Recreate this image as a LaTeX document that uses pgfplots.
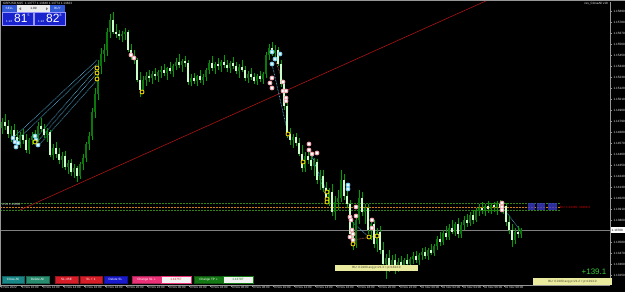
\documentclass[border=0pt]{standalone}
\usepackage{pgfplots}
\pgfplotsset{compat=1.18}
\usepackage{pgfplotstable}
\usepackage{fontspec}
\setmainfont{Liberation Sans}

\definecolor{wickc}{RGB}{0,160,0}
\definecolor{bullc}{RGB}{10,120,10}
\definecolor{bearc}{RGB}{200,255,200}
\definecolor{axgray}{RGB}{150,150,150}
\definecolor{trend}{RGB}{170,20,20}
\definecolor{cyanm}{RGB}{110,200,235}
\definecolor{cyand}{RGB}{80,170,210}
\definecolor{pinkm}{RGB}{240,150,160}
\definecolor{brownd}{RGB}{170,90,90}
\definecolor{yellm}{RGB}{255,225,0}
\definecolor{mtblue}{RGB}{25,35,205}
\definecolor{mtblue2}{RGB}{50,90,215}
\definecolor{teal1}{RGB}{25,135,135}
\definecolor{teal2}{RGB}{40,140,110}
\definecolor{btnred}{RGB}{215,30,40}
\definecolor{btnblue}{RGB}{25,25,205}
\definecolor{btnpink}{RGB}{235,50,120}
\definecolor{btngreen}{RGB}{20,120,20}
\definecolor{labyel}{RGB}{235,235,160}
\definecolor{hlgreen}{RGB}{50,130,30}
\definecolor{hlorange}{RGB}{210,130,20}
\definecolor{plus}{RGB}{60,200,60}

\newcommand\fA{\fontsize{3.5}{4}\selectfont}
\newcommand\fB{\fontsize{3.1}{3.5}\selectfont}

\pgfplotstableread{
i o h l c
0 1.1472 1.1482 1.1466 1.1478
1 1.1478 1.1486 1.1470 1.1474
2 1.1474 1.1480 1.1462 1.1466
3 1.1466 1.1474 1.1458 1.1470
4 1.1470 1.1476 1.1460 1.1463
5 1.1463 1.1470 1.1455 1.1458
6 1.1458 1.1468 1.1452 1.1465
7 1.1465 1.1471 1.1456 1.1460
8 1.1460 1.1466 1.1447 1.1450
9 1.1450 1.1462 1.1446 1.1460
10 1.1460 1.1468 1.1455 1.1464
11 1.1464 1.1470 1.1457 1.1460
12 1.1460 1.1478 1.1458 1.1474
13 1.1474 1.1482 1.1468 1.1471
14 1.1471 1.1476 1.1462 1.1465
15 1.1465 1.1472 1.1458 1.1468
16 1.1468 1.1470 1.1443 1.1445
17 1.1445 1.1456 1.1440 1.1452
18 1.1452 1.1458 1.1442 1.1446
19 1.1446 1.1452 1.1436 1.1440
20 1.1440 1.1448 1.1432 1.1444
21 1.1444 1.1449 1.1430 1.1433
22 1.1433 1.1440 1.1426 1.1437
23 1.1437 1.1441 1.1424 1.1428
24 1.1428 1.1436 1.1422 1.1432
25 1.1432 1.1434 1.1418 1.1424
26 1.1424 1.1438 1.1421 1.1436
27 1.1436 1.1446 1.1430 1.1442
28 1.1442 1.1458 1.1438 1.1456
29 1.1456 1.1468 1.1450 1.1464
30 1.1464 1.1492 1.1460 1.1488
31 1.1488 1.1512 1.1482 1.1506
32 1.1506 1.1540 1.1500 1.1534
33 1.1534 1.1552 1.1526 1.1546
34 1.1546 1.1556 1.1538 1.1550
35 1.1550 1.1572 1.1544 1.1568
36 1.1568 1.1586 1.1562 1.1580
37 1.1580 1.1588 1.1566 1.1568
38 1.1568 1.1576 1.1562 1.1566
39 1.1566 1.1570 1.1560 1.1564
40 1.1564 1.1569 1.1558 1.1566
41 1.1566 1.1572 1.1560 1.1568
42 1.1568 1.1570 1.1548 1.1550
43 1.1550 1.1556 1.1540 1.1544
44 1.1544 1.1550 1.1536 1.1540
45 1.1540 1.1542 1.1518 1.1520
46 1.1520 1.1528 1.1503 1.1510
47 1.1510 1.1524 1.1506 1.1520
48 1.1520 1.1528 1.1514 1.1524
49 1.1524 1.1530 1.1518 1.1522
50 1.1522 1.1529 1.1516 1.1526
51 1.1526 1.1532 1.1520 1.1524
52 1.1524 1.1530 1.1518 1.1528
53 1.1528 1.1534 1.1522 1.1530
54 1.1530 1.1536 1.1524 1.1527
55 1.1527 1.1533 1.1520 1.1532
56 1.1532 1.1538 1.1526 1.1529
57 1.1529 1.1536 1.1523 1.1534
58 1.1534 1.1542 1.1530 1.1538
59 1.1538 1.1546 1.1532 1.1535
60 1.1535 1.1541 1.1528 1.1539
61 1.1539 1.1544 1.1533 1.1537
62 1.1537 1.1540 1.1515 1.1518
63 1.1518 1.1526 1.1514 1.1522
64 1.1522 1.1527 1.1516 1.1519
65 1.1519 1.1525 1.1514 1.1524
66 1.1524 1.1530 1.1517 1.1520
67 1.1520 1.1526 1.1515 1.1523
68 1.1523 1.1532 1.1519 1.1530
69 1.1530 1.1540 1.1526 1.1537
70 1.1537 1.1544 1.1529 1.1532
71 1.1532 1.1538 1.1526 1.1536
72 1.1536 1.1542 1.1530 1.1534
73 1.1534 1.1540 1.1528 1.1538
74 1.1538 1.1545 1.1532 1.1535
75 1.1535 1.1540 1.1528 1.1532
76 1.1532 1.1539 1.1527 1.1537
77 1.1537 1.1543 1.1531 1.1534
78 1.1534 1.1538 1.1526 1.1529
79 1.1529 1.1536 1.1522 1.1533
80 1.1533 1.1540 1.1528 1.1530
81 1.1530 1.1534 1.1519 1.1522
82 1.1522 1.1529 1.1517 1.1526
83 1.1526 1.1532 1.1520 1.1523
84 1.1523 1.1527 1.1516 1.1519
85 1.1519 1.1526 1.1515 1.1524
86 1.1524 1.1529 1.1518 1.1521
87 1.1521 1.1528 1.1516 1.1526
88 1.1526 1.1548 1.1522 1.1545
89 1.1545 1.1556 1.1540 1.1552
90 1.1552 1.1558 1.1544 1.1547
91 1.1547 1.1555 1.1541 1.1550
92 1.1550 1.1553 1.1534 1.1536
93 1.1536 1.1540 1.1513 1.1516
94 1.1516 1.1520 1.1490 1.1494
95 1.1494 1.1498 1.1462 1.1466
96 1.1466 1.1472 1.1455 1.1460
97 1.1460 1.1466 1.1452 1.1463
98 1.1463 1.1467 1.1454 1.1457
99 1.1457 1.1462 1.1444 1.1446
100 1.1446 1.1455 1.1428 1.1432
101 1.1432 1.1448 1.1428 1.1444
102 1.1444 1.1452 1.1436 1.1440
103 1.1440 1.1446 1.1430 1.1434
104 1.1434 1.1442 1.1424 1.1438
105 1.1438 1.1441 1.1416 1.1420
106 1.1420 1.1430 1.1410 1.1424
107 1.1424 1.1430 1.1408 1.1412
108 1.1412 1.1418 1.1398 1.1402
109 1.1402 1.1412 1.1394 1.1408
110 1.1408 1.1416 1.1384 1.1388
111 1.1388 1.1404 1.1380 1.1398
112 1.1398 1.1410 1.1390 1.1402
113 1.1402 1.1430 1.1398 1.1420
114 1.1420 1.1426 1.1400 1.1404
115 1.1404 1.1414 1.1392 1.1396
116 1.1396 1.1400 1.1362 1.1366
117 1.1366 1.1378 1.1350 1.1356
118 1.1356 1.1384 1.1352 1.1380
119 1.1380 1.1410 1.1376 1.1402
120 1.1402 1.1408 1.1384 1.1388
121 1.1388 1.1396 1.1376 1.1392
122 1.1392 1.1396 1.1366 1.1370
123 1.1370 1.1382 1.1360 1.1376
124 1.1376 1.1380 1.1352 1.1356
125 1.1356 1.1372 1.1348 1.1368
126 1.1368 1.1374 1.1346 1.1350
127 1.1350 1.1358 1.1330 1.1336
128 1.1336 1.1346 1.1321 1.1342
129 1.1342 1.1350 1.1328 1.1334
130 1.1334 1.1345 1.1330 1.1340
131 1.1340 1.1346 1.1326 1.1332
132 1.1332 1.1342 1.1328 1.1338
133 1.1338 1.1344 1.1330 1.1335
134 1.1335 1.1342 1.1331 1.1340
135 1.1340 1.1346 1.1333 1.1336
136 1.1336 1.1343 1.1330 1.1341
137 1.1341 1.1348 1.1336 1.1344
138 1.1344 1.1349 1.1337 1.1340
139 1.1340 1.1347 1.1335 1.1345
140 1.1345 1.1352 1.1340 1.1348
141 1.1348 1.1353 1.1341 1.1344
142 1.1344 1.1352 1.1340 1.1350
143 1.1350 1.1356 1.1345 1.1347
144 1.1347 1.1356 1.1344 1.1354
145 1.1354 1.1364 1.1350 1.1361
146 1.1361 1.1368 1.1354 1.1358
147 1.1358 1.1370 1.1355 1.1367
148 1.1367 1.1374 1.1360 1.1363
149 1.1363 1.1376 1.1360 1.1372
150 1.1372 1.1380 1.1366 1.1368
151 1.1368 1.1378 1.1364 1.1376
152 1.1376 1.1382 1.1362 1.1366
153 1.1366 1.1378 1.1362 1.1375
154 1.1375 1.1384 1.1370 1.1380
155 1.1380 1.1386 1.1373 1.1377
156 1.1377 1.1388 1.1374 1.1385
157 1.1385 1.1390 1.1376 1.1380
158 1.1380 1.1392 1.1378 1.1389
159 1.1389 1.1396 1.1384 1.1392
160 1.1392 1.1398 1.1386 1.1390
161 1.1390 1.1396 1.1384 1.1394
162 1.1394 1.1399 1.1387 1.1391
163 1.1391 1.1397 1.1386 1.1395
164 1.1395 1.1398 1.1388 1.1393
165 1.1393 1.1399 1.1385 1.1396
166 1.1396 1.1400 1.1390 1.1392
167 1.1392 1.1398 1.1386 1.1394
168 1.1394 1.1397 1.1374 1.1378
169 1.1378 1.1384 1.1366 1.1370
170 1.1370 1.1376 1.1353 1.1360
171 1.1360 1.1372 1.1356 1.1368
172 1.1368 1.1374 1.1362 1.1366
173 1.1366 1.1372 1.1362 1.1370
}\candles

\newcommand\btn[4]{%
  \fill[#3] (#1,9) rectangle (#2,15.5);
  \draw[#3!70!black, line width=0.4] (#1,9) rectangle (#2,15.5);
  \node[white, inner sep=0] at ({(#1+#2)/2},12.2) {\fB #4};}

\begin{document}
\begin{tikzpicture}
\fill[black] (0,0) rectangle (625bp,292bp);
\path[use as bounding box] (0,0) rectangle (625bp,292bp);
\begin{axis}[
  at={(0bp,7bp)}, anchor=south west,
  scale only axis, width=610bp, height=283bp,
  xmin=-0.667, xmax=202.667, ymin=1.1315, ymax=1.1598,
  axis x line*=bottom, axis y line*=right,
  axis line style={draw=axgray, line width=0.6bp},
  tick style={draw=axgray, line width=0.4bp},
  tick align=outside, major tick length=1.6bp,
  scaled y ticks=false,
  ytick={1.1325,1.1336,1.1347,1.1358,1.1380,1.1391,1.1402,1.1413,1.1424,1.1435,1.1446,1.1457,1.1468,1.1479,1.1490,1.1501,1.1512,1.1523,1.1534,1.1545,1.1556,1.1567,1.1578,1.1589},
  yticklabel style={font=\fB, text=white!85!gray, xshift=-1.5bp, /pgf/number format/.cd, fixed, precision=5, zerofill, assume math mode=true},
  xtick={-0.667,6.333,13.333,20.333,27.333,34.333,41.333,48.333,55.333,62.333,69.333,76.333,83.333,90.333,97.333,104.333,111.333,118.333,125.333,132.333,139.333,146.333,153.333,160.333,167.333},
  xticklabels={8 Nov 2022, 8 Nov 10:00, 8 Nov 12:00, 8 Nov 14:00, 8 Nov 16:00, 8 Nov 18:00, 8 Nov 20:00, 8 Nov 22:00, 9 Nov 00:00, 9 Nov 02:00, 9 Nov 04:00, 9 Nov 06:00, 9 Nov 08:00, 9 Nov 10:00, 9 Nov 12:00, 9 Nov 14:00, 9 Nov 16:00, 9 Nov 18:00, 9 Nov 20:00, 9 Nov 22:00, 10 Nov 00:00, 10 Nov 02:00, 10 Nov 04:00, 10 Nov 06:00, 10 Nov 08:00},
  xticklabel style={font=\fB, text=white!85!gray, anchor=north west, xshift=0.3bp, yshift=1bp, inner sep=0.5bp},
]
% horizontal order lines
\addplot[hlgreen, line width=1bp, dash pattern=on 1.5bp off 1.5bp] coordinates {(-0.667,1.1396) (186,1.1396)};
\addplot[hlorange, line width=0.9bp, dash pattern=on 1.5bp off 1.5bp] coordinates {(-0.667,1.1393) (186,1.1393)};
\addplot[hlgreen, line width=0.9bp, dash pattern=on 1.5bp off 1.5bp] coordinates {(-0.667,1.1390) (186,1.1390)};
% bid line
\addplot[gray, line width=0.5bp] coordinates {(-0.667,1.1370) (202.667,1.1370)};
% trend line
\addplot[trend, line width=0.6bp] coordinates {(6,1.1390) (162,1.1600)};
% dotted connectors
\addplot[cyand, line width=0.7bp, dash pattern=on 0.7bp off 0.8bp] coordinates {(11.33,1.1462) (31.67,1.1532)};
\addplot[cyand, line width=0.7bp, dash pattern=on 0.7bp off 0.8bp] coordinates {(11.67,1.1458) (31.67,1.1527)};
\addplot[cyand, line width=0.7bp, dash pattern=on 0.7bp off 0.8bp] coordinates {(12,1.1454) (31.67,1.1520)};
\addplot[cyand, line width=0.7bp, dash pattern=on 0.7bp off 0.8bp] coordinates {(4.33,1.1458) (31.67,1.1536)};
\addplot[cyand, line width=0.7bp, dash pattern=on 0.7bp off 0.8bp] coordinates {(3.67,1.1462) (31.67,1.1540)};
\addplot[cyand, line width=0.7bp, dash pattern=on 0.7bp off 0.8bp] coordinates {(90,1.1536) (95.33,1.1466)};
\addplot[brownd, line width=0.7bp, dash pattern=on 0.7bp off 0.8bp] coordinates {(91,1.1541) (93.67,1.1518)};
\addplot[cyand, line width=0.7bp, dash pattern=on 0.7bp off 0.8bp] coordinates {(102.33,1.1450) (108.33,1.1408)};
\addplot[cyand, line width=0.7bp, dash pattern=on 0.7bp off 0.8bp] coordinates {(103.33,1.1445) (108.33,1.1400)};
\addplot[cyand, line width=0.7bp, dash pattern=on 0.7bp off 0.8bp] coordinates {(116,1.1380) (122.33,1.1363)};
\addplot[brownd, line width=0.7bp, dash pattern=on 0.7bp off 0.8bp] coordinates {(117,1.1360) (125,1.1364)};
\addplot[cyand, line width=0.7bp, dash pattern=on 0.7bp off 0.8bp] coordinates {(168.33,1.1387) (172.67,1.1370)};
% candles: wicks
\addplot[draw=none, mark=none, forget plot,
  error bars/.cd, y dir=plus, y explicit, error mark=none,
  error bar style={draw=wickc, line width=0.8bp}]
  table[x=i, y=l, y error plus expr=\thisrow{h}-\thisrow{l}] {\candles};
% bull bodies
\addplot[draw=none, mark=none, forget plot,
  error bars/.cd, y dir=plus, y explicit, error mark=none,
  error bar style={draw=bullc, line width=2bp}]
  table[x=i, y=o, y error plus expr={max(\thisrow{c}-\thisrow{o},0)}] {\candles};
% bear bodies
\addplot[draw=none, mark=none, forget plot,
  error bars/.cd, y dir=plus, y explicit, error mark=none,
  error bar style={draw=bearc, line width=2bp}]
  table[x=i, y=c, y error plus expr={max(\thisrow{o}-\thisrow{c},0)}] {\candles};
% order markers
\addplot[only marks, mark=*, mark size=2bp, mark options={draw=cyanm, fill=white!80!cyanm, line width=0.7bp}] coordinates {
(3.67,1.1462) (4.33,1.1458) (4.67,1.1453) (5.33,1.1457) (11,1.1464) (11.33,1.1460) (12,1.1455)
(90,1.1548) (91,1.1541) (92.67,1.1546) (90,1.1536) (115.33,1.1415) (115.33,1.1411)};
\addplot[only marks, mark=*, mark size=2bp, mark options={draw=pinkm, fill=white, line width=0.7bp}] coordinates {
(43,1.1545) (44,1.1542) (90,1.1522) (89.33,1.1517) (90,1.1512) (93.67,1.1518) (93.67,1.1509) (94.67,1.1509)
(94.67,1.1502) (94.67,1.1499) (102.33,1.1456) (102.33,1.1450) (103.33,1.1446) (105,1.1447) (118,1.1393)
(116,1.1383) (116.33,1.1380) (118,1.1384) (116.67,1.1370) (117,1.1366) (116,1.1363) (117,1.1360)
(123.33,1.1380) (123.33,1.1372) (166.67,1.1397) (166.67,1.1393) (166.67,1.1390)};
\addplot[only marks, mark=*, mark size=2bp, mark options={draw=yellm, fill=black, line width=0.8bp}] coordinates {
(31.67,1.1532) (31.67,1.1527) (31.67,1.1521) (11,1.1458) (46.67,1.1508) (95.33,1.1466) (100.33,1.1438)
(108.33,1.1408) (108.33,1.1401) (108.33,1.1398) (117,1.1356) (122.33,1.1363) (125,1.1364)};
\end{axis}

\begin{scope}[x=1bp, y=1bp]
% frame
\draw[axgray, line width=0.8] (0,291.6) -- (625,291.6);
\draw[axgray, line width=0.6] (0.3,7) -- (0.3,292);
% title
\node[anchor=north west, inner sep=0, text=white!85!gray] at (3,290.3) {\fB GBPUSD,M15\ \ 1.13777 1.13848 1.13774 1.13823};
\node[anchor=north east, inner sep=0, text=white!85!gray] at (608,290.3) {\fB res\_CloseAll v18};
% one click panel
\fill[mtblue2] (2,280) rectangle (17,286.5);
\node[white, inner sep=0] at (9.5,283.2) {\fB SELL};
\fill[white!92!black] (17,280) rectangle (50,286.5);
\node[black, inner sep=0] at (33.5,283.2) {\fB 1.00};
\fill[gray] (19,283.2) -- (21,284.8) -- (21,281.6) -- cycle;
\fill[gray] (48,283.2) -- (46,284.8) -- (46,281.6) -- cycle;
\fill[mtblue2] (50,280) rectangle (65,286.5);
\node[white, inner sep=0] at (57.5,283.2) {\fB BUY};
\fill[mtblue] (2,267) rectangle (33,280);
\draw[blue!40!white, line width=0.4] (2,267) rectangle (33,280);
\fill[mtblue] (34,267) rectangle (65,280);
\draw[blue!40!white, line width=0.4] (34,267) rectangle (65,280);
\node[white, anchor=base west, inner sep=0] at (6,270) {\fontsize{3}{3}\selectfont 1.13};
\node[white, anchor=base west, inner sep=0] at (14,269.5) {\fontsize{12}{12}\selectfont 81};
\node[white, anchor=base west, inner sep=0] at (27.5,275.5) {\fontsize{3.5}{3.5}\selectfont 5};
\node[white, anchor=base west, inner sep=0] at (38,270) {\fontsize{3}{3}\selectfont 1.13};
\node[white, anchor=base west, inner sep=0] at (46,269.5) {\fontsize{12}{12}\selectfont 82};
\node[white, anchor=base west, inner sep=0] at (59.5,275.5) {\fontsize{3.5}{3.5}\selectfont 8};
% left order labels
\node[anchor=west, inner sep=0, text=white!75!gray] at (2,88) {\fB 0.01 1.13960};
% right blue blocks and red text
\fill[blue!55!gray, opacity=0.8] (528,82) rectangle (535,89);
\fill[blue!55!gray, opacity=0.8] (537,82) rectangle (545,89);
\fill[blue!55!gray, opacity=0.8] (548,82) rectangle (557,89);
\node[anchor=west, inner sep=0, text=red!85!black] at (560,84.5) {\fB BU: 1.13460, 34468 3};
% current price box
\fill[white] (610.5,59.2) rectangle (625,64.8);
\node[anchor=west, inner sep=0, text=black] at (611.5,62) {\fB 1.13700};
% buttons
\btn{2}{24}{teal1}{Close All}
\btn{26}{49}{teal2}{Delete All}
\btn{55}{78}{btnred}{SL->BE}
\btn{80}{102}{btnred}{SL + 1}
\btn{104}{127}{btnblue}{Delete SL}
\btn{132}{161}{btnpink}{Change SL >>}
\fill[white!95!black] (161,9) rectangle (191,15.5);
\draw[btnpink, line width=0.6] (161,9) rectangle (191,15.5);
\node[inner sep=0, text=btnred] at (176,12.2) {\fB 1.13757};
\btn{194}{223}{btngreen}{Change TP >>}
\fill[white!95!black] (223,9) rectangle (253,15.5);
\draw[btngreen, line width=0.6] (223,9) rectangle (253,15.5);
\node[inner sep=0, text=btngreen] at (238,12.2) {\fB 1.13787};
% yellow info boxes
\fill[labyel] (335,21) rectangle (418,27);
\node[inner sep=0, text=black!70!olive] at (376.5,24) {\fB BU: 0.0100 avg p=21.3 = p=1813.0};
\fill[labyel] (533,7.5) rectangle (612,14);
\node[inner sep=0, text=black!70!olive] at (572.5,10.7) {\fB BU: 0.0100 avg p=21.2 = p=1913.0};
\node[inner sep=0, text=plus] at (594,20.5) {\fontsize{8}{8}\selectfont +139.1};
\end{scope}
\end{tikzpicture}
\end{document}
